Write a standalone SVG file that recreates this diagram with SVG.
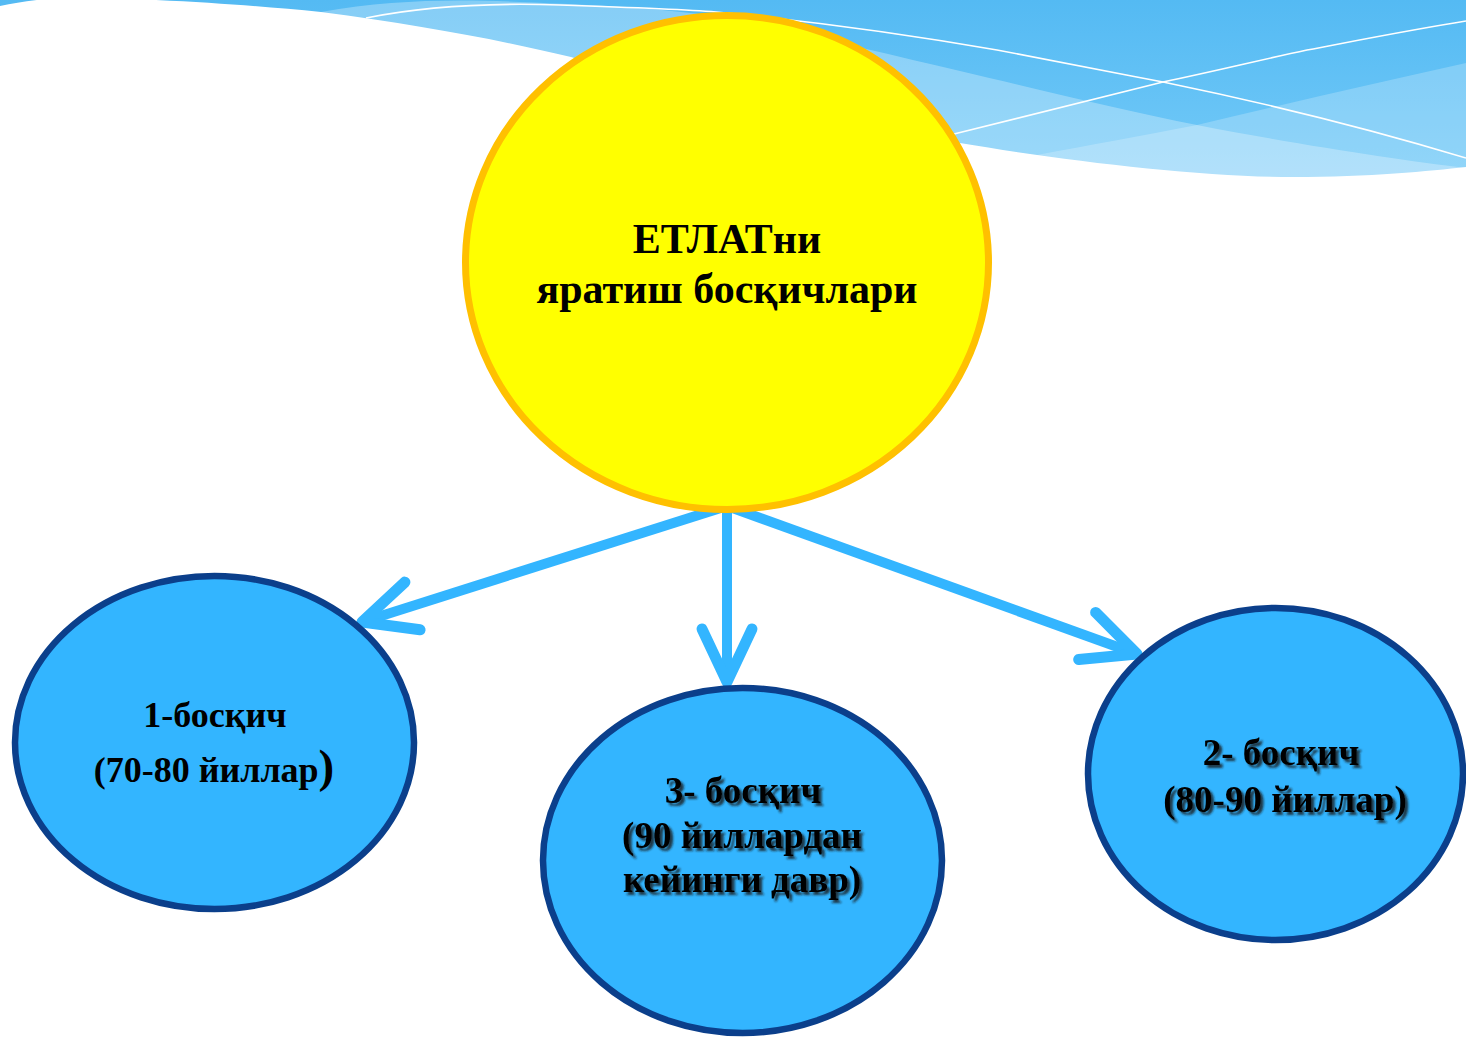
<svg xmlns="http://www.w3.org/2000/svg" width="1466" height="1039" viewBox="0 0 1466 1039">
  <defs>
    <linearGradient id="sky" x1="0" y1="0" x2="0" y2="180" gradientUnits="userSpaceOnUse">
      <stop offset="0" stop-color="#54BAF3"/>
      <stop offset="1" stop-color="#74CAF8"/>
    </linearGradient>
    <filter id="shadow" x="-10%" y="-30%" width="120%" height="160%">
      <feDropShadow dx="3" dy="3" stdDeviation="1.3" flood-color="#1a1a1a" flood-opacity="0.8"/>
    </filter>
    <marker id="chevron" viewBox="-62 -32 72 64" markerWidth="72" markerHeight="64" refX="0" refY="0" orient="auto" markerUnits="userSpaceOnUse" overflow="visible">
      <path d="M-53,-25 L0,0 L-53,25" fill="none" stroke="#33B5FF" stroke-width="11" stroke-linecap="round" stroke-linejoin="round"/>
    </marker>
  </defs>
  <style>
    .yellow { fill: #FFFF00; stroke: #FFC000; stroke-width: 7; }
    .blue { fill: #33B5FF; stroke: #0B3F8B; stroke-width: 6.5; }
    .conn { fill: none; stroke: #33B5FF; stroke-width: 10; stroke-linecap: butt; marker-end: url(#chevron); }
    .t { font-family: "Liberation Serif", "Times New Roman", serif; font-weight: bold; fill: #000; text-anchor: middle; }
    .wline { fill: none; stroke: #FFFFFF; stroke-width: 1.6; }
  </style>

  <rect width="1466" height="1039" fill="#FFFFFF"/>

  <g id="background">
    <rect x="0" y="0" width="1466" height="260" fill="url(#sky)"/>
    <path d="M321,12 C390,0 450,-1 520,2 C600,5 650,8 700,14 C780,28 880,52 960,71 C1050,92 1130,112 1197,125 C1300,145 1400,160 1466,168 V260 H321 Z" fill="#FFFFFF" fill-opacity="0.29"/>
    <path d="M990,170 C1010,163 1020,159 1037,155 C1090,145 1140,136 1197,125 C1290,103 1380,82 1466,63 V260 H990 Z" fill="#FFFFFF" fill-opacity="0.22"/>
    <path d="M366,18 C430,5 500,3 560,5 C620,7 680,9 716,12 C800,20 900,33 997,50 C1060,62 1110,72 1163,82 C1270,104 1380,132 1466,158" class="wline"/>
    <path d="M954,134 C1030,115 1100,97 1163,82 C1220,70 1260,60 1307,50 C1360,40 1410,30 1466,21" class="wline"/>
    <path d="M0,6 C15,3 30,0 50,-1 C90,-2 120,-1 156,0 C220,3 270,7 321,12 C420,25 500,40 571,57 C700,95 850,128 960,143 C1060,160 1200,177 1293,177 C1370,177 1430,171 1466,167 V300 H0 Z" fill="#FFFFFF"/>
  </g>

  <g id="connectors">
    <path class="conn" d="M727,506 L362,622"/>
    <path class="conn" d="M727,506 L727,682"/>
    <path class="conn" d="M727,506 L1137,654"/>
  </g>

  <g id="node-center">
    <ellipse class="yellow" cx="727" cy="262.5" rx="261.5" ry="247"/>
    <text class="t" x="727" y="253" font-size="42">ЕТЛАТни</text>
    <text class="t" x="727" y="303" font-size="42">яратиш босқичлари</text>
  </g>

  <g id="node-stage1">
    <ellipse class="blue" cx="214.5" cy="742.5" rx="199.5" ry="166.5"/>
    <text class="t" x="215" y="727" font-size="36">1-босқич</text>
    <text class="t" x="214" y="782" font-size="36">(70-80 йиллар<tspan font-size="47">)</tspan></text>
  </g>

  <g id="node-stage3">
    <ellipse class="blue" cx="742.5" cy="860.5" rx="199.5" ry="172.5"/>
    <g filter="url(#shadow)">
      <text class="t" x="743" y="803" font-size="37">3- босқич</text>
      <text class="t" x="742" y="848" font-size="37">(90 йиллардан</text>
      <text class="t" x="742" y="892" font-size="37">кейинги давр)</text>
    </g>
  </g>

  <g id="node-stage2">
    <ellipse class="blue" cx="1275.5" cy="774" rx="187.5" ry="166"/>
    <g filter="url(#shadow)">
      <text class="t" x="1281" y="765" font-size="37">2- босқич</text>
      <text class="t" x="1285" y="812" font-size="37">(80-90 йиллар)</text>
    </g>
  </g>
</svg>
